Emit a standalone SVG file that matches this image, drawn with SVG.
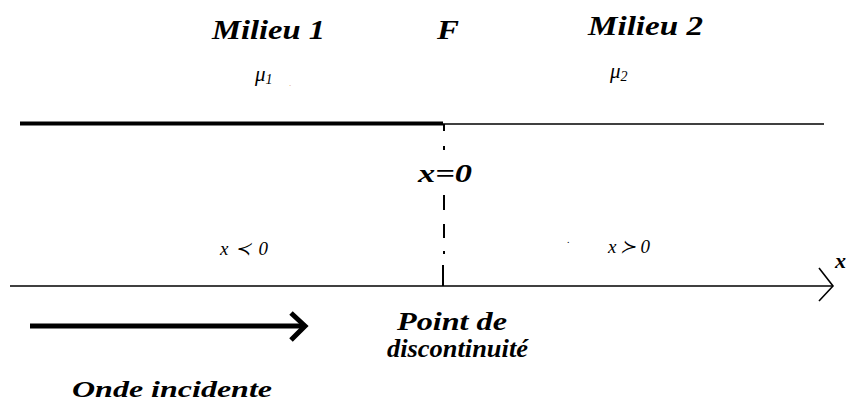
<svg xmlns="http://www.w3.org/2000/svg" width="846" height="403" viewBox="0 0 846 403">
<style>
.t{font-family:"Liberation Serif","Times New Roman",serif;font-weight:bold;font-style:italic;fill:#000}
.m{font-family:"Liberation Serif","Times New Roman",serif;font-style:italic;fill:#000}
.ln{stroke:#000;fill:none}
</style>
<rect width="846" height="403" fill="#fff"/>
<g id="connectors">
<line class="ln" x1="20" y1="123.5" x2="443" y2="123.5" stroke-width="4"/>
<line class="ln" x1="443" y1="124" x2="824" y2="124" stroke-width="1.6" stroke="#222"/>
<line class="ln" x1="10" y1="286" x2="832" y2="286" stroke-width="1.6"/>
<polyline class="ln" points="819,268 833,286 819,301" stroke-width="1.6"/>
<g class="ln" stroke-width="2">
<line x1="444" y1="124" x2="444" y2="131"/>
<line x1="444" y1="146" x2="444" y2="150"/>
<line x1="444" y1="195" x2="444" y2="210"/>
<line x1="444" y1="224" x2="444" y2="238"/>
<line x1="444" y1="251" x2="444" y2="254"/>
<line x1="443" y1="265" x2="443" y2="286"/>
</g>
<line class="ln" x1="30" y1="326" x2="303" y2="326" stroke-width="5"/>
<polyline class="ln" points="291,313 305,326 291,340" stroke-width="5"/>
</g>
<g id="milieu1"><text class="t" x="212" y="39" font-size="27" textLength="113" lengthAdjust="spacingAndGlyphs">Milieu 1</text></g>
<g id="F"><text class="t" x="437" y="39" font-size="27" textLength="22" lengthAdjust="spacingAndGlyphs">F</text></g>
<g id="milieu2"><text class="t" x="588" y="35" font-size="27" textLength="115" lengthAdjust="spacingAndGlyphs">Milieu 2</text></g>
<g id="mu1"><text class="m" x="255" y="81" font-size="21">μ<tspan font-size="14" dy="3">1</tspan></text><text x="289" y="86" font-size="9" fill="#e0a060" font-family="Liberation Serif">.</text></g>
<g id="mu2"><text class="m" x="610" y="78" font-size="21">μ<tspan font-size="14" dy="3">2</tspan></text></g>
<g id="x0"><text class="t" x="418" y="182" font-size="25" textLength="54" lengthAdjust="spacingAndGlyphs">x=0</text></g>
<g id="xneg"><text class="m" x="220" y="255" font-size="19" textLength="48" lengthAdjust="spacing">x ≺ 0</text></g>
<g id="xpos"><text x="567" y="243" font-size="10" font-family="Liberation Serif">.</text><text class="m" x="608" y="253" font-size="19" textLength="42" lengthAdjust="spacing">x ≻ 0</text></g>
<g id="xaxis"><text class="t" x="835" y="268" font-size="22">x</text></g>
<g id="point"><text class="t" x="397" y="330" font-size="25" textLength="110" lengthAdjust="spacingAndGlyphs">Point de</text><text class="t" x="387" y="357" font-size="25" textLength="141" lengthAdjust="spacingAndGlyphs">discontinuit&#233;</text></g>
<g id="onde"><text class="t" x="72" y="397" font-size="24" textLength="200" lengthAdjust="spacingAndGlyphs">Onde incidente</text></g>
</svg>
